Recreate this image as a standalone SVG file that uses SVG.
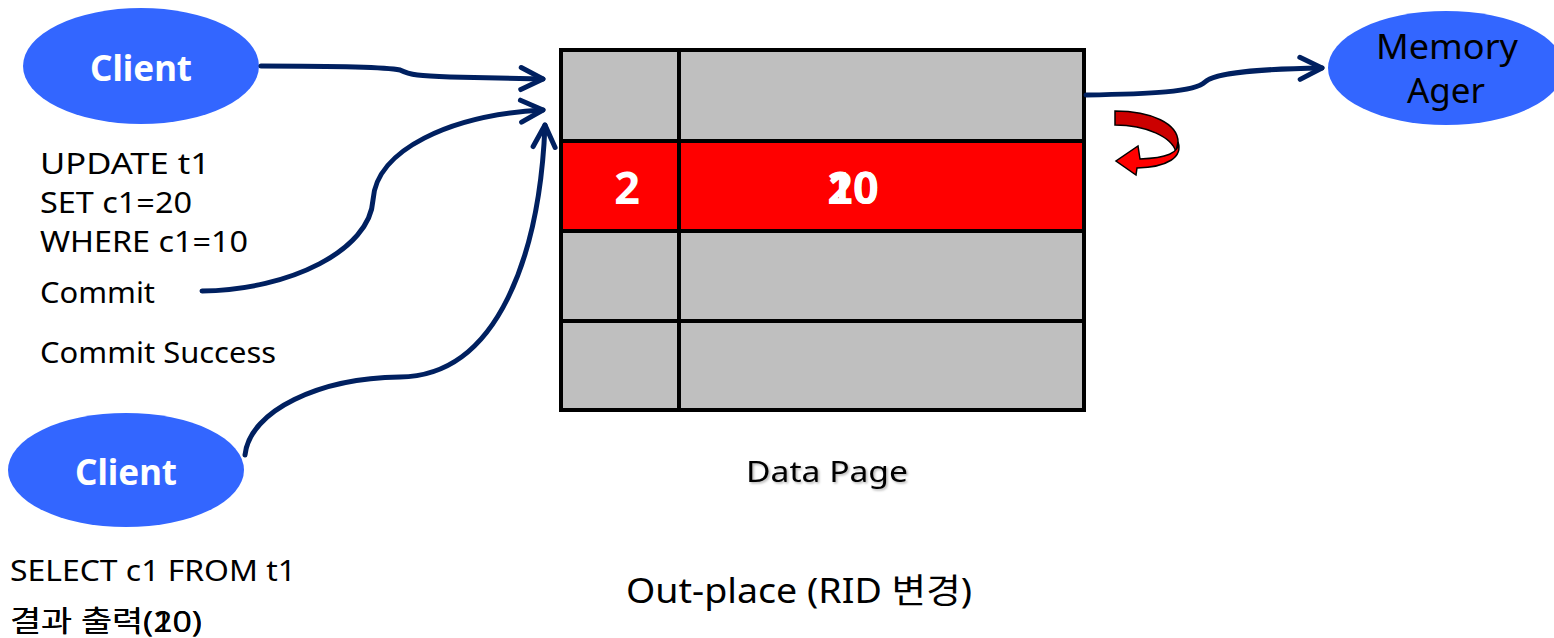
<svg xmlns="http://www.w3.org/2000/svg" width="1554" height="638" viewBox="0 0 1554 638">
<defs>
<marker id="chev" markerWidth="30" markerHeight="30" viewBox="-26 -14 30 28" refX="0" refY="0" orient="auto" markerUnits="userSpaceOnUse">
<polyline points="-22,-11 0,0 -22,11" fill="none" stroke="#002060" stroke-width="5" stroke-linecap="round" stroke-linejoin="round"/>
</marker>
<filter id="sh" x="-10%" y="-30%" width="120%" height="160%">
<feDropShadow dx="1.5" dy="1.5" stdDeviation="1" flood-color="#000" flood-opacity="0.3"/>
</filter>
</defs>
<style>
.ell{fill:#3366FF}
.cl{font-family:"Noto Sans","Open Sans",sans-serif;font-weight:bold;font-size:35px;fill:#fff;text-anchor:middle}
.ma{font-family:"Noto Sans","Open Sans",sans-serif;font-size:35px;fill:#000;text-anchor:middle}
.t{font-family:"Noto Sans","Noto Sans CJK KR",sans-serif;font-size:29px;fill:#000}
.gr{fill:#BFBFBF;stroke:#000;stroke-width:4}
.rd{fill:#FF0000;stroke:#000;stroke-width:4}
.num{font-family:"Noto Sans","Open Sans",sans-serif;font-weight:bold;font-size:45px;fill:#fff;text-anchor:middle}
.conn{fill:none;stroke:#002060;stroke-width:5;stroke-linecap:round}
</style>
<rect width="1554" height="638" fill="#fff"/>

<g id="client1">
<ellipse class="ell" cx="141" cy="66" rx="118" ry="58"/>
<text class="cl" x="141" y="81" textLength="102" lengthAdjust="spacingAndGlyphs">Client</text>
</g>
<g id="client2">
<ellipse class="ell" cx="126" cy="470" rx="118" ry="57"/>
<text class="cl" x="126" y="485" textLength="102" lengthAdjust="spacingAndGlyphs">Client</text>
</g>
<g id="memory-ager">
<ellipse class="ell" cx="1446" cy="68" rx="118" ry="57"/>
<text class="ma" x="1447" y="59" textLength="142" lengthAdjust="spacingAndGlyphs">Memory</text>
<text class="ma" x="1446" y="103">Ager</text>
</g>

<g id="data-page">
<rect class="gr" x="561" y="50" width="523" height="360"/>
<rect class="rd" x="561" y="141" width="523" height="90"/>
<line x1="561" y1="321" x2="1084" y2="321" stroke="#000" stroke-width="4"/>
<line x1="679" y1="50" x2="679" y2="410" stroke="#000" stroke-width="4"/>
<text class="num" x="627" y="204">2</text>
<text class="num" x="853" y="204">10</text>
<text class="num" x="853" y="204">20</text>
</g>

<g id="rotate-arrow">
<path d="M1115,111 C1152,111 1178,124 1178,142 L1176,152 C1172,137 1146,125 1115,125 Z" fill="#CC0000" stroke="#000" stroke-width="1.5"/>
<path d="M1178,142 C1180,153 1166,158 1140,159 L1138,146 L1116,161 L1136,175 L1137,168 C1168,167 1183,157 1178,142 Z" fill="#FF0000" stroke="#000" stroke-width="1.5"/>
</g>

<g id="connectors">
<path class="conn" d="M261,66 C330,66 385,67 400,70 C410,75 420,76 450,77 L543,79" marker-end="url(#chev)"/>
<path class="conn" d="M202,291 C290,290 370,250 373,200 C376,150 450,115 543,110" marker-end="url(#chev)"/>
<path class="conn" d="M245,455 C250,410 320,378 400,377 C500,376 540,250 545,125" marker-end="url(#chev)"/>
<path class="conn" d="M1086,95 C1150,94 1195,92 1205,82 C1215,72 1260,69 1322,68" marker-end="url(#chev)"/>
</g>

<g id="labels">
<text class="t" x="40" y="174" textLength="170" lengthAdjust="spacingAndGlyphs">UPDATE t1</text>
<text class="t" x="40" y="213" textLength="152" lengthAdjust="spacingAndGlyphs">SET c1=20</text>
<text class="t" x="40" y="252" textLength="208" lengthAdjust="spacingAndGlyphs">WHERE c1=10</text>
<text class="t" x="40" y="303" textLength="115" lengthAdjust="spacingAndGlyphs">Commit</text>
<text class="t" x="40" y="363" textLength="236" lengthAdjust="spacingAndGlyphs">Commit Success</text>
<text class="t" x="10" y="581" textLength="286" lengthAdjust="spacingAndGlyphs">SELECT c1 FROM t1</text>
<text class="t" x="10" y="632" textLength="192" lengthAdjust="spacingAndGlyphs">결과 출력(10)</text>
<text class="t" x="10" y="632" textLength="192" lengthAdjust="spacingAndGlyphs">결과 출력(20)</text>
<text class="t" x="746" y="482" textLength="162" lengthAdjust="spacingAndGlyphs" filter="url(#sh)">Data Page</text>
<text class="t" x="626" y="603" textLength="346" lengthAdjust="spacingAndGlyphs" style="font-size:34px">Out-place (RID 변경)</text>
</g>
</svg>
